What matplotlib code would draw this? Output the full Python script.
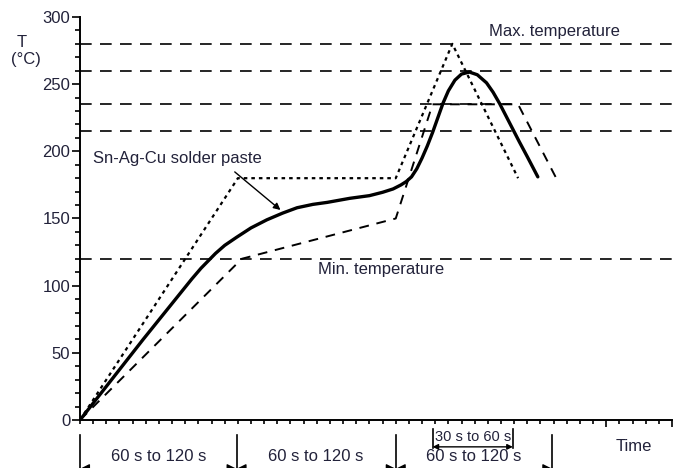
import matplotlib
matplotlib.use('Agg')
import matplotlib.pyplot as plt
import numpy as np

plt.rcParams['font.family'] = ['Liberation Sans', 'DejaVu Sans']
txt = '#22223a'

# time axis in seconds (approx), temperature in degC
solid_t = [0, 48, 85, 92, 97, 103, 110, 119, 130, 142, 154, 165, 177, 188, 205, 220,
           230, 238, 244, 248, 252, 256, 260, 264, 268, 272, 276, 280, 285, 290, 296,
           302, 309, 314, 319, 324, 329, 334, 340, 348]
solid_T = [0, 60, 105, 113, 118, 124, 130, 136, 143, 149, 154, 158, 160.5, 162, 165, 167,
           169.5, 172, 175, 177.5, 181, 187, 195, 204, 214, 225, 236, 245, 253, 257.5, 259,
           257, 251, 244, 235.5, 226, 216.5, 207, 196, 181]

fast_t = [0, 120, 240, 283, 333]
fast_T = [0, 180, 180, 280, 180]

slow_t = [0, 123, 240, 268, 333, 362]
slow_T = [0, 120, 150, 235, 235, 180]

ref_levels = [280, 260, 235, 215, 120]

phase_edges = [0, 119, 240, 359]
phase_labels = ['60 s to 120 s', '60 s to 120 s', '60 s to 120 s']
peak_window = [268, 329]

fig = plt.figure(figsize=(6.77, 4.68), dpi=100)
ax = fig.add_axes([0.1182, 0.1026, 0.8744, 0.8611])

for lv in ref_levels:
    ax.plot([0, 450], [lv, lv], color='black', lw=1.2, ls=(0, (7, 5)))

ax.plot(fast_t, fast_T, color='black', lw=1.6, ls=(0, (1.6, 1.8)))
ax.plot(slow_t, slow_T, color='black', lw=1.4, ls=(0, (5, 4)))
ax.plot(solid_t, solid_T, color='black', lw=2.4, solid_capstyle='round',
        solid_joinstyle='round')

ax.set_xlim(0, 450)
ax.set_ylim(0, 300)
ax.spines['top'].set_visible(False)
ax.spines['right'].set_visible(False)
ax.spines['left'].set_linewidth(1.4)
ax.spines['bottom'].set_linewidth(1.4)

ax.set_yticks(np.arange(0, 301, 50))
ax.set_yticks(np.arange(0, 301, 10), minor=True)
ax.tick_params(axis='y', which='major', length=6, width=1.2, labelsize=12, pad=1, labelcolor=txt)
ax.tick_params(axis='y', which='minor', length=3.5, width=1.2)
ax.set_xticks([400, 450])
ax.set_xticks(np.arange(0, 451, 10), minor=True)
ax.tick_params(axis='x', which='major', length=5, width=1.2, labelbottom=False)
ax.tick_params(axis='x', which='minor', length=3, width=1.2)

ax.text(-44, 281, 'T', fontsize=12, color=txt, ha='center', va='center')
ax.text(-41, 268, '(°C)', fontsize=12, color=txt, ha='center', va='center')

ax.text(311, 289, 'Max. temperature', fontsize=12, color=txt, va='center')
ax.text(181, 112, 'Min. temperature', fontsize=12, color=txt, va='center')
ax.text(10, 195, 'Sn-Ag-Cu solder paste', fontsize=12, color=txt, va='center')
ax.annotate('', xy=(154, 155), xytext=(116, 186),
            arrowprops=dict(arrowstyle='-|>', color='black', lw=1.0, mutation_scale=10))

# phase markers under the time axis
for e in phase_edges:
    ax.plot([e, e], [-11, -36], color='black', lw=1.2, clip_on=False)
for i, lab in enumerate(phase_labels):
    x0, x1 = phase_edges[i], phase_edges[i + 1]
    ax.annotate('', xy=(x0, -36.3), xytext=(x1, -36.3), annotation_clip=False,
                arrowprops=dict(arrowstyle='<|-|>', color='black', lw=1.0,
                                mutation_scale=14, shrinkA=0, shrinkB=0))
    ax.text((x0 + x1) / 2, -27.5, lab, fontsize=12, color=txt, ha='center', va='center')

for e in peak_window:
    ax.plot([e, e], [-7, -21], color='black', lw=1.2, clip_on=False)
ax.annotate('', xy=(peak_window[0], -20), xytext=(peak_window[1], -20), annotation_clip=False,
            arrowprops=dict(arrowstyle='<|-|>', color='black', lw=1.0,
                            mutation_scale=8, shrinkA=0, shrinkB=0))
ax.text(sum(peak_window) / 2, -12.5, '30 s to 60 s', fontsize=10.5, color=txt,
        ha='center', va='center')
ax.text(421, -19.5, 'Time', fontsize=12, color=txt, ha='center', va='center')

fig.savefig('out.png', dpi=100)
